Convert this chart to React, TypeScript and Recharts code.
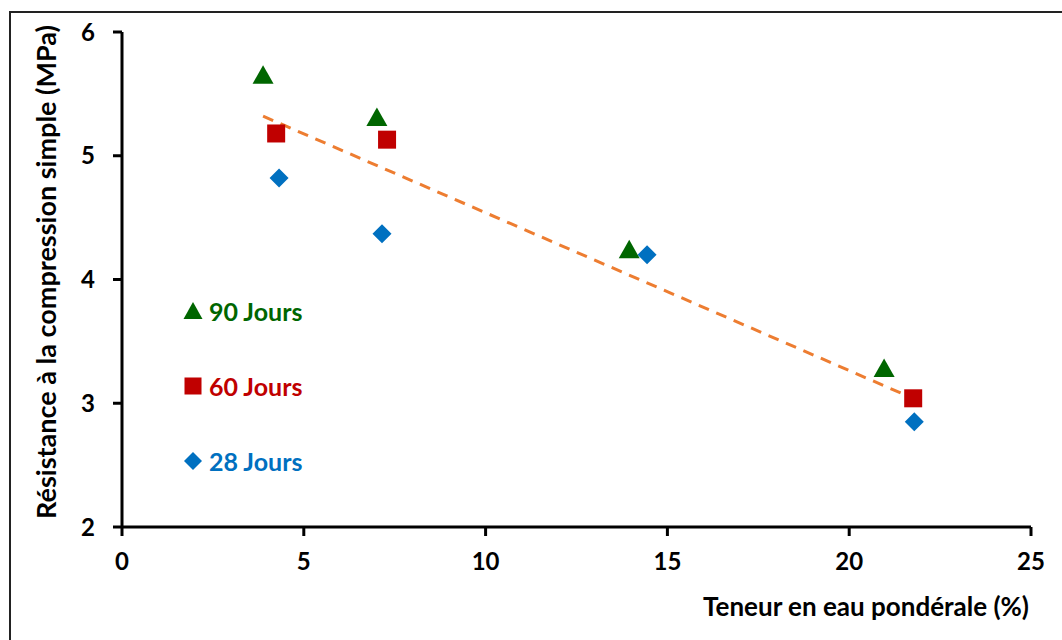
import React from "react";
import { Scatter, ScatterChart, XAxis, YAxis } from "recharts";

// water content (%) vs unconfined compressive strength (MPa)
const jours90 = [
  { x: 3.88, y: 5.65 },
  { x: 7.01, y: 5.31 },
  { x: 13.95, y: 4.24 },
  { x: 20.96, y: 3.28 },
];
const jours60 = [
  { x: 4.24, y: 5.18 },
  { x: 7.29, y: 5.13 },
  { x: 21.76, y: 3.04 },
];
const jours28 = [
  { x: 4.32, y: 4.82 },
  { x: 7.15, y: 4.37 },
  { x: 14.44, y: 4.2 },
  { x: 21.79, y: 2.85 },
];
const trend = [
  { x: 3.88, y: 5.32 },
  { x: 21.6, y: 3.06 },
];
const xTicks = [0, 5, 10, 15, 20, 25];
const yTicks = [2, 3, 4, 5, 6];

const GREEN = "#006600";
const RED = "#C00000";
const BLUE = "#0070C0";
const ORANGE = "#ED7D31";
const FONT = "Lato, 'Open Sans', sans-serif";

const Triangle = (p: any) => (
  <polygon
    points={`${p.cx},${p.cy - 10} ${p.cx + 10.5},${p.cy + 8.5} ${p.cx - 10.5},${p.cy + 8.5}`}
    fill={GREEN}
  />
);
const Square = (p: any) => (
  <rect x={p.cx - 9} y={p.cy - 9} width={18} height={18} fill={RED} />
);
const Diamond = (p: any) => (
  <polygon
    points={`${p.cx},${p.cy - 9.5} ${p.cx + 9.5},${p.cy} ${p.cx},${p.cy + 9.5} ${p.cx - 9.5},${p.cy}`}
    fill={BLUE}
  />
);

const legendItems = [
  { label: "90 Jours", color: GREEN, shape: "tri" },
  { label: "60 Jours", color: RED, shape: "sq" },
  { label: "28 Jours", color: BLUE, shape: "dia" },
];

// legend sits inside the plot, so it is drawn as an overlay
function JoursLegend() {
  return (
    <div
      style={{
        position: "absolute",
        left: 183,
        top: 273,
        fontFamily: FONT,
        fontWeight: 700,
        fontSize: 25,
      }}
    >
      {legendItems.map((it) => (
        <div key={it.label} style={{ display: "flex", alignItems: "center", height: 75 }}>
          <svg width={20} height={20} style={{ marginRight: 6 }}>
            {it.shape === "tri" && <polygon points="10,1 19.5,18 0.5,18" fill={it.color} />}
            {it.shape === "sq" && <rect x={1.5} y={1.5} width={17} height={17} fill={it.color} />}
            {it.shape === "dia" && <polygon points="10,1 19,10 10,19 1,10" fill={it.color} />}
          </svg>
          <span style={{ color: it.color }}>{it.label}</span>
        </div>
      ))}
    </div>
  );
}

const tickStyle = { fill: "#000", fontSize: 24, fontWeight: 700, fontFamily: FONT };

export default function App() {
  return (
    <div
      style={{
        position: "absolute",
        left: 0,
        top: 0,
        width: 1062,
        height: 640,
        background: "#fff",
        overflow: "hidden",
      }}
    >
      <div
        style={{
          position: "absolute",
          left: 9,
          top: 11,
          width: 1100,
          height: 700,
          borderTop: "2px solid #222",
          borderLeft: "2px solid #222",
        }}
      />
      <ScatterChart
        width={1062}
        height={640}
        margin={{ top: 32, right: 31, bottom: 0, left: 0 }}
        style={{ position: "absolute", left: 0, top: 0 }}
      >
        <XAxis
          type="number"
          dataKey="x"
          domain={[0, 25]}
          ticks={xTicks}
          stroke="#000"
          strokeWidth={3}
          tickSize={9}
          tickMargin={17}
          tick={tickStyle}
          height={113}
        />
        <YAxis
          type="number"
          dataKey="y"
          domain={[2, 6]}
          ticks={yTicks}
          stroke="#000"
          strokeWidth={3}
          tickSize={9}
          tickMargin={18}
          tick={tickStyle}
          width={122}
        />
        <Scatter
          data={trend}
          fill="none"
          line={{ stroke: ORANGE, strokeWidth: 3, strokeDasharray: "11 8" }}
          shape={() => <g />}
          isAnimationActive={false}
          legendType="none"
        />
        <Scatter data={jours28} shape={Diamond} isAnimationActive={false} />
        <Scatter data={jours60} shape={Square} isAnimationActive={false} />
        <Scatter data={jours90} shape={Triangle} isAnimationActive={false} />
      </ScatterChart>
      <JoursLegend />
      <div
        style={{
          position: "absolute",
          left: 45,
          top: 272,
          transform: "translate(-50%, -50%) rotate(-90deg)",
          whiteSpace: "nowrap",
          fontFamily: FONT,
          fontWeight: 700,
          fontSize: 27,
          color: "#000",
        }}
      >
        Résistance à la compression simple (MPa)
      </div>
      <div
        style={{
          position: "absolute",
          right: 33,
          top: 590,
          whiteSpace: "nowrap",
          fontFamily: FONT,
          fontWeight: 700,
          fontSize: 26,
          color: "#000",
        }}
      >
        Teneur en eau pondérale (%)
      </div>
    </div>
  );
}
